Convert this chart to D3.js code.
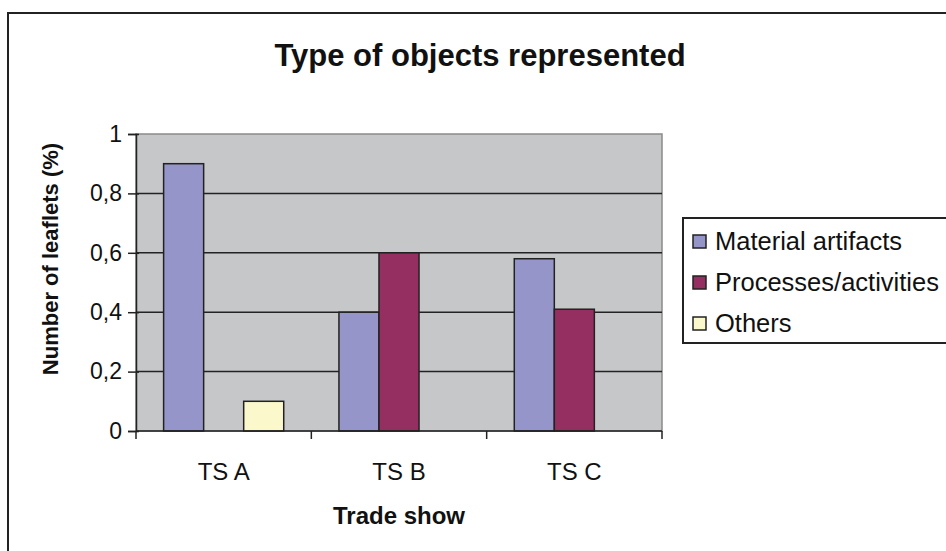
<!DOCTYPE html>
<html>
<head>
<meta charset="utf-8">
<script src="https://cdn.jsdelivr.net/npm/d3@7"></script>
<style>
  body { margin: 0; background: #fff; }
  text { font-family: "Liberation Sans", Arial, sans-serif; fill: #111; }
</style>
</head>
<body>
<svg width="946" height="551"></svg>
<script>
// data
var categories = ["TS A", "TS B", "TS C"];
var seriesNames = ["Material artifacts", "Processes/activities", "Others"];
var material = [0.9, 0.4, 0.58];
var processes = [0, 0.6, 0.41];
var others = [0.1, 0, 0];
var yTicks = [0, 0.2, 0.4, 0.6, 0.8, 1];
var colors = {"Material artifacts": "#9595c9", "Processes/activities": "#962f61", "Others": "#fbf9cc"};

var svg = d3.select("svg");
var plotL = 136, plotR = 662, plotT = 134, plotB = 431;

// outer frame, runs off the right and bottom edges
svg.append("rect").attr("x", 8).attr("y", 13).attr("width", 960).attr("height", 560)
   .attr("fill", "#fff").attr("stroke", "#222").attr("stroke-width", 2);

svg.append("text").attr("x", 480).attr("y", 66).attr("text-anchor", "middle")
   .attr("font-size", 31).attr("font-weight", "bold").text("Type of objects represented");

var y = d3.scaleLinear().domain([0, 1]).range([plotB, plotT]);
var x = d3.scaleBand().domain(categories).range([plotL, plotR]).paddingInner(0.315).paddingOuter(0.1575);
var xs = d3.scaleBand().domain(seriesNames).range([0, x.bandwidth()]);
var edges = d3.scaleLinear().domain([0, categories.length]).range([plotL, plotR]);

// plot area
svg.append("rect").attr("x", plotL).attr("y", plotT).attr("width", plotR - plotL).attr("height", plotB - plotT)
   .attr("fill", "#c6c7c9").attr("stroke", "#8a8a8a").attr("stroke-width", 1.5);

svg.selectAll(".grid").data(yTicks.filter(function(d){ return d > 0 && d < 1; })).enter().append("line")
   .attr("x1", plotL).attr("x2", plotR)
   .attr("y1", function(d){ return y(d); }).attr("y2", function(d){ return y(d); })
   .attr("stroke", "#222").attr("stroke-width", 1.5);

var rows = categories.map(function(c, i){
    return {cat: c, vals: [material[i], processes[i], others[i]]};
});
var groups = svg.selectAll(".grp").data(rows).enter().append("g")
   .attr("transform", function(d){ return "translate(" + x(d.cat) + ",0)"; });
groups.selectAll("rect").data(function(d){
        return d.vals.map(function(v, j){ return {name: seriesNames[j], v: v}; }).filter(function(e){ return e.v > 0; });
    }).enter().append("rect")
   .attr("x", function(d){ return xs(d.name); })
   .attr("width", xs.bandwidth())
   .attr("y", function(d){ return y(d.v); })
   .attr("height", function(d){ return plotB - y(d.v); })
   .attr("fill", function(d){ return colors[d.name]; })
   .attr("stroke", "#222").attr("stroke-width", 1.5);

// y axis
var yAxis = d3.axisLeft(y).tickValues(yTicks).tickSize(8).tickPadding(6)
   .tickFormat(function(d){ return String(d).replace(".", ","); });
var ya = svg.append("g").attr("transform", "translate(" + plotL + ",0)").call(yAxis);
ya.select(".domain").attr("stroke", "#222").attr("stroke-width", 1.5);
ya.selectAll(".tick line").attr("stroke", "#222").attr("stroke-width", 1.5).attr("x2", -8).attr("x1", 3);
ya.selectAll("text").attr("font-size", 23).attr("font-family", "Liberation Sans, Arial, sans-serif").attr("fill", "#111");

// x axis: ticks sit at category edges
svg.append("line").attr("x1", plotL).attr("x2", plotR).attr("y1", plotB).attr("y2", plotB)
   .attr("stroke", "#222").attr("stroke-width", 1.5);
svg.selectAll(".xtick").data(d3.range(categories.length + 1)).enter().append("line")
   .attr("x1", function(d){ return edges(d); }).attr("x2", function(d){ return edges(d); })
   .attr("y1", plotB).attr("y2", plotB + 8)
   .attr("stroke", "#222").attr("stroke-width", 1.5);
svg.selectAll(".xlab").data(categories).enter().append("text")
   .attr("x", function(d){ return x(d) + x.bandwidth() / 2; }).attr("y", 480)
   .attr("text-anchor", "middle").attr("font-size", 24).text(function(d){ return d; });

svg.append("text").attr("x", (plotL + plotR) / 2).attr("y", 524).attr("text-anchor", "middle")
   .attr("font-size", 24).attr("font-weight", "bold").text("Trade show");

svg.append("text").attr("transform", "translate(58,259) rotate(-90)")
   .attr("text-anchor", "middle").attr("font-size", 22).attr("font-weight", "bold")
   .text("Number of leaflets (%)");

// legend
var lg = svg.append("g").attr("transform", "translate(683,218)");
lg.append("rect").attr("width", 280).attr("height", 125).attr("fill", "#fff").attr("stroke", "#222").attr("stroke-width", 2);
var items = lg.selectAll(".item").data(seriesNames).enter().append("g")
   .attr("transform", function(d, i){ return "translate(10," + (23 + i * 41) + ")"; });
items.append("rect").attr("x", 0).attr("y", -6).attr("width", 13).attr("height", 13)
   .attr("fill", function(d){ return colors[d]; }).attr("stroke", "#222").attr("stroke-width", 1.5);
items.append("text").attr("x", 22).attr("y", 9).attr("font-size", 25.5).text(function(d){ return d; });
</script>
</body>
</html>
